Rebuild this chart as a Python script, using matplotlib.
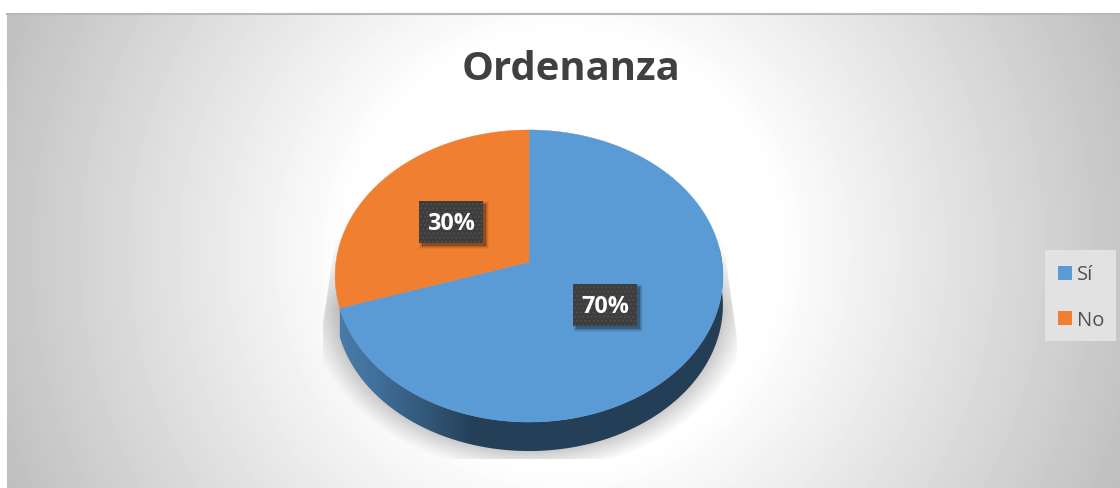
import numpy as np
import matplotlib
matplotlib.use("Agg")
import matplotlib.pyplot as plt
from matplotlib.patches import Polygon, Rectangle
from matplotlib.colors import LinearSegmentedColormap

title = "Ordenanza"
categories = ["Sí", "No"]
values = [70, 30]
labels = ["70%", "30%"]
colors = ["#5b9bd5", "#f07f31"]

plt.rcParams['font.family'] = ['Open Sans', 'DejaVu Sans']
W, H = 1120, 489
fig = plt.figure(figsize=(W/100, H/100), dpi=100, facecolor="white")
ax = fig.add_axes([0, 0, 1, 1])
ax.set_xlim(0, W); ax.set_ylim(H, 0); ax.axis("off")

# chart-area background: radial gradient
X0, Y0, X1, Y1 = 7, 15, 1120, 489
xx, yy = np.meshgrid(np.arange(X0, X1) + .5, np.arange(Y0, Y1) + .5)
d = np.hypot(xx - 563, yy - 252)
g = 255 - np.clip((d - 215) / 389, 0, 1) * (255 - 191)
ax.imshow(g, cmap="gray", vmin=0, vmax=255, extent=(X0, X1, Y1, Y0),
          aspect="auto", zorder=0, interpolation="bilinear")
ax.plot([X0, X1], [15, 15], color="#b8b8b8", lw=1.5, zorder=1)
ax.set_xlim(0, W); ax.set_ylim(H, 0)

# perspective projection of the pie disc
cx, cy, A, B, K = 529, 263, 193, 144.7, 0.0959
def proj(t, r=1.0, dy=0.0):
    # t: clockwise angle from 12 o'clock, radians
    px, py = r*np.sin(t), r*np.cos(t)
    den = 1 + K*py
    return cx + A*px/den, cy - B*py/den + dy

def frac_angle(f):
    return 2*np.pi*f

# soft shadow under the pie
sx0, sx1, sy0, sy1 = 323, 737, 225, 460
sxx, syy = np.meshgrid(np.arange(sx0, sx1) + .5, np.arange(sy0, sy1) + .5)
rho = np.hypot((sxx - 529)/224, (syy - 298)/176)
alpha = np.clip((1 - rho)/0.16, 0, 1)**1.1 * 0.42
# the side bands narrow towards the top of the pie
half = 194 + 14*np.clip((syy - 245)/98, 0, 1)
alpha *= np.clip(half + 1 - np.abs(sxx - 529), 0, 1)
alpha *= np.clip((syy - 240)/70, 0, 1)
rgba = np.zeros(sxx.shape + (4,)); rgba[..., :3] = 0.35; rgba[..., 3] = alpha
ax.imshow(rgba, extent=(sx0, sx1, sy1, sy0), aspect="auto", zorder=2)
ax.set_xlim(0, W); ax.set_ylim(H, 0)

# side wall of the blue slice with gradient
depth = 29
start = frac_angle(values[0]/sum(values))
ts = np.linspace(0, start, 300)
ts_front = ts[(ts > np.pi*0.45)]
xa, ya = proj(ts_front)
xb, yb = proj(ts_front[::-1], dy=depth)
side = Polygon(np.column_stack([np.r_[xa, xb], np.r_[ya, yb]]), closed=True,
               fc="none", ec="none", zorder=3)
ax.add_patch(side)
cmap = LinearSegmentedColormap.from_list("s", [(0, "#4a7dab"), (0.10, "#41709a"),
                                               (0.35, "#25415a"), (1, "#233e55")])
grad = np.linspace(0, 1, 400).reshape(1, -1)
im = ax.imshow(grad, cmap=cmap, extent=(335, 725, 480, 250), aspect="auto", zorder=3)
im.set_clip_path(side)
ax.set_xlim(0, W); ax.set_ylim(H, 0)

# top faces
f0 = 0.0
for v, c in zip(values, colors):
    f1 = f0 + v/sum(values)
    t = np.linspace(frac_angle(f0), frac_angle(f1), 300)
    x, y = proj(t)
    ax.add_patch(Polygon(np.column_stack([np.r_[cx, x], np.r_[cy, y]]), closed=True,
                         fc=c, ec=c, lw=0.3, zorder=4))
    f0 = f1

# data labels
label_r = [0.475, 0.515]
label_dy = [1, 2.5]
f0 = 0.0
for v, lab, r, dy in zip(values, labels, label_r, label_dy):
    mid = frac_angle(f0 + v/sum(values)/2)
    lx, ly = proj(mid, r, dy)
    w, h = 64, 42
    for grow, al in [(3, .05), (2, .08), (1, .12), (0, .22)]:
        ax.add_patch(Rectangle((lx - w/2 + 3 - grow, ly - h/2 + 3 - grow), w + 2*grow, h + 2*grow,
                               fc="black", ec="none", alpha=al, zorder=5))
    ax.add_patch(Rectangle((lx - w/2, ly - h/2), w, h, fc="#3d3d3d", ec="none", zorder=6))
    ax.add_patch(Rectangle((lx - w/2, ly - h/2), w, h, fc="none", ec="#4e4e4e", lw=0,
                           hatch="....", zorder=6))
    ax.text(lx, ly + 1.5, lab, color="white", fontsize=16.8, fontweight="bold",
            ha="center", va="center", zorder=7)
    f0 += v/sum(values)

# title
ax.text(571, 69, title, color="#404040", fontsize=28.8, fontweight="bold",
        ha="center", va="center", zorder=7)

# legend
ax.add_patch(Rectangle((1045, 251), 71, 91, fc="#e2e2e2", ec="none", zorder=5))
for c, lab, y in zip(colors, categories, [274, 319]):
    ax.add_patch(Rectangle((1058, y - 7), 14, 14, fc=c, ec="none", zorder=6))
    ax.text(1077, y + 1.5, lab, color="#505050", fontsize=14.5, ha="left", va="center", zorder=7)

fig.savefig("out.png", dpi=100, facecolor="white")
